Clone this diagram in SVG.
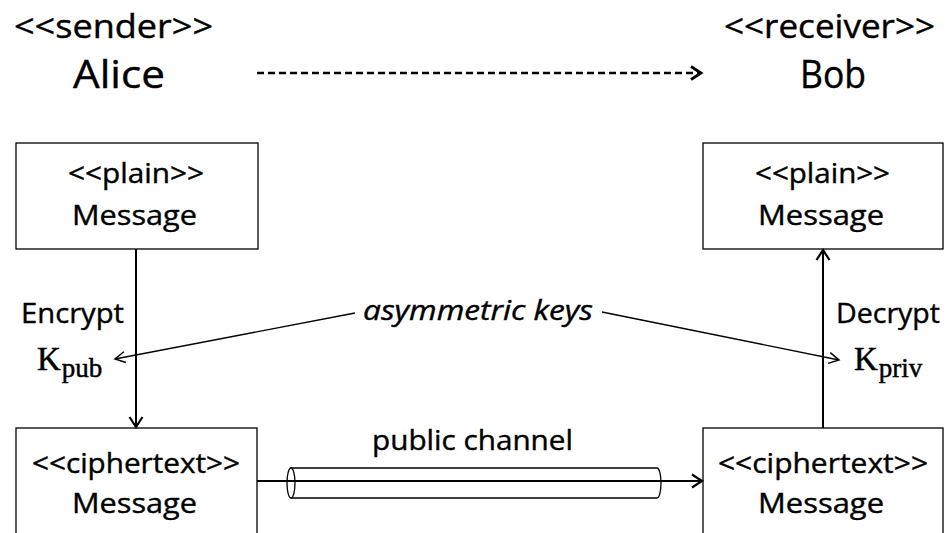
<svg xmlns="http://www.w3.org/2000/svg" width="949" height="533" viewBox="0 0 949 533">
  <style>
    .t { font-family: "Open Sans", "Liberation Sans", sans-serif; fill: #000; stroke: #000; stroke-width: 0.4; }
    .title { font-size: 32px; }
    .name { font-size: 38px; }
    .lbl { font-size: 28px; }
    .it { font-style: italic; }
    .math { font-family: "Liberation Serif", "DejaVu Serif", serif; fill: #000; stroke: #000; stroke-width: 0.5; }
    .sub { font-size: 27px; }
    .box { fill: #fff; stroke: #000; stroke-width: 1.3; }
    .flow { fill: none; stroke: #000; stroke-width: 2; }
    .key { fill: none; stroke: #000; stroke-width: 1.4; }
  </style>
  <defs>
    <marker id="chev" markerUnits="userSpaceOnUse" markerWidth="14" markerHeight="16" refX="11" refY="7" orient="auto" overflow="visible">
      <path d="M1,0.5 L11,7 L1,13.5" fill="none" stroke="#000" stroke-width="2.2"/>
    </marker>
    <marker id="chevThin" markerUnits="userSpaceOnUse" markerWidth="14" markerHeight="14" refX="11" refY="6" orient="auto" overflow="visible">
      <path d="M1,0.5 L11,6 L1,11.5" fill="none" stroke="#000" stroke-width="1.5"/>
    </marker>
    <marker id="chevBold" markerUnits="userSpaceOnUse" markerWidth="14" markerHeight="16" refX="11" refY="7" orient="auto" overflow="visible">
      <path d="M1,0.5 L11,7 L1,13.5" fill="none" stroke="#000" stroke-width="2.8"/>
    </marker>
  </defs>

  <!-- participants -->
  <g id="alice">
    <text class="t title" x="113.5" y="38" text-anchor="middle" textLength="199" lengthAdjust="spacingAndGlyphs">&lt;&lt;sender&gt;&gt;</text>
    <text class="t name" x="119" y="88" text-anchor="middle" textLength="92" lengthAdjust="spacingAndGlyphs">Alice</text>
  </g>
  <g id="bob">
    <text class="t title" x="829.5" y="38" text-anchor="middle" textLength="211" lengthAdjust="spacingAndGlyphs">&lt;&lt;receiver&gt;&gt;</text>
    <text class="t name" x="833" y="88" text-anchor="middle" textLength="66" lengthAdjust="spacingAndGlyphs">Bob</text>
  </g>

  <!-- message boxes -->
  <g id="plain-sender">
    <rect class="box" x="16" y="143" width="242" height="106"/>
    <text class="t lbl" x="136" y="183" text-anchor="middle" textLength="136" lengthAdjust="spacingAndGlyphs">&lt;&lt;plain&gt;&gt;</text>
    <text class="t lbl" x="134.5" y="225" text-anchor="middle" textLength="125" lengthAdjust="spacingAndGlyphs">Message</text>
  </g>
  <g id="plain-receiver">
    <rect class="box" x="703" y="143" width="240" height="106"/>
    <text class="t lbl" x="822.5" y="183" text-anchor="middle" textLength="135" lengthAdjust="spacingAndGlyphs">&lt;&lt;plain&gt;&gt;</text>
    <text class="t lbl" x="821" y="225" text-anchor="middle" textLength="126" lengthAdjust="spacingAndGlyphs">Message</text>
  </g>
  <g id="cipher-sender">
    <rect class="box" x="16" y="428" width="241" height="120"/>
    <text class="t lbl" x="136" y="473" text-anchor="middle" textLength="208" lengthAdjust="spacingAndGlyphs">&lt;&lt;ciphertext&gt;&gt;</text>
    <text class="t lbl" x="134.5" y="513" text-anchor="middle" textLength="125" lengthAdjust="spacingAndGlyphs">Message</text>
  </g>
  <g id="cipher-receiver">
    <rect class="box" x="703" y="428" width="240" height="120"/>
    <text class="t lbl" x="823" y="473" text-anchor="middle" textLength="210" lengthAdjust="spacingAndGlyphs">&lt;&lt;ciphertext&gt;&gt;</text>
    <text class="t lbl" x="821" y="513" text-anchor="middle" textLength="126" lengthAdjust="spacingAndGlyphs">Message</text>
  </g>

  <!-- public channel pipe -->
  <g id="channel">
    <path class="box" d="M291,468 L657,468 A4,15 0 0 1 657,498 L291,498 Z"/>
    <ellipse class="box" cx="291" cy="483" rx="4" ry="15"/>
    <text class="t lbl" x="372" y="450" textLength="201" lengthAdjust="spacingAndGlyphs">public channel</text>
  </g>

  <!-- key labels -->
  <g id="encrypt">
    <text class="t lbl" x="21" y="323" textLength="103" lengthAdjust="spacingAndGlyphs">Encrypt</text>
    <text class="math" x="37" y="370" font-size="33">K<tspan class="sub" dx="1" dy="7">pub</tspan></text>
  </g>
  <g id="decrypt">
    <text class="t lbl" x="836" y="323" textLength="104" lengthAdjust="spacingAndGlyphs">Decrypt</text>
    <text class="math" x="854" y="370" font-size="33">K<tspan class="sub" dx="1" dy="7">priv</tspan></text>
  </g>
  <g id="asymmetric-keys">
    <text class="t lbl it" x="363" y="320" textLength="230" lengthAdjust="spacingAndGlyphs">asymmetric keys</text>
  </g>

  <!-- connectors -->
  <g id="connectors">
    <line x1="257" y1="73" x2="701" y2="73" fill="none" stroke="#000" stroke-width="2.6" stroke-dasharray="7,4" marker-end="url(#chevBold)"/>
    <line class="flow" x1="136" y1="249" x2="136" y2="427" marker-end="url(#chev)"/>
    <line class="flow" x1="823" y1="428" x2="823" y2="250" marker-end="url(#chev)"/>
    <line class="flow" x1="257" y1="481" x2="702" y2="481" marker-end="url(#chev)"/>
    <line class="key" x1="355" y1="313" x2="115" y2="359" marker-end="url(#chevThin)"/>
    <line class="key" x1="602" y1="312" x2="839" y2="360" marker-end="url(#chevThin)"/>
  </g>
</svg>
